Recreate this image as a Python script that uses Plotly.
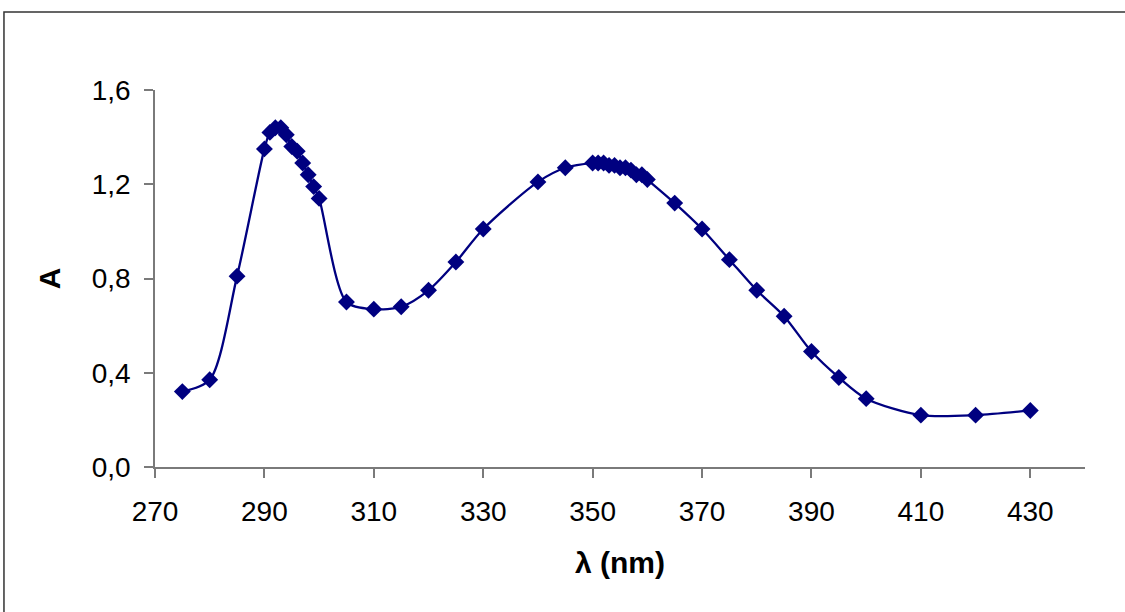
import plotly.graph_objects as go

wavelength = [275, 280, 285, 290, 291, 292, 293, 294, 295, 296, 297, 298, 299, 300,
              305, 310, 315, 320, 325, 330, 340, 345,
              350, 351, 352, 353, 354, 355, 356, 357, 358, 359, 360,
              365, 370, 375, 380, 385, 390, 395, 400, 410, 420, 430]
absorbance = [0.32, 0.37, 0.81, 1.35, 1.42, 1.44, 1.44, 1.41, 1.36, 1.34, 1.29, 1.24, 1.19, 1.14,
              0.70, 0.67, 0.68, 0.75, 0.87, 1.01, 1.21, 1.27,
              1.29, 1.29, 1.29, 1.28, 1.28, 1.27, 1.27, 1.26, 1.24, 1.24, 1.22,
              1.12, 1.01, 0.88, 0.75, 0.64, 0.49, 0.38, 0.29, 0.22, 0.22, 0.24]
x_ticks = [270, 290, 310, 330, 350, 370, 390, 410, 430]
y_ticks = [0.0, 0.4, 0.8, 1.2, 1.6]
y_labels = ["0,0", "0,4", "0,8", "1,2", "1,6"]

navy = "#000080"
axis_col = "#7a7a7a"
title_font = dict(family="Liberation Sans, Arial, sans-serif", size=30, color="black")

fig = go.Figure()
fig.add_trace(go.Scatter(
    x=wavelength, y=absorbance, mode="lines+markers",
    line=dict(color=navy, width=2.3, shape="spline", smoothing=0.8),
    marker=dict(symbol="diamond", size=13, color=navy),
    showlegend=False, cliponaxis=False))

fig.update_layout(
    width=1125, height=612,
    margin=dict(l=155, r=40, t=90, b=145),
    paper_bgcolor="white", plot_bgcolor="white",
    font=dict(family="Liberation Sans, Arial, sans-serif", size=28, color="black"),
    xaxis=dict(range=[270, 440], tickvals=x_ticks, showgrid=False, zeroline=False,
               showline=True, linecolor=axis_col, linewidth=1.5,
               ticks="outside", ticklen=9, tickcolor=axis_col, tickwidth=1.5,
               ticklabelstandoff=10,
               title=dict(text="<b>λ (nm)</b>", font=title_font, standoff=26)),
    yaxis=dict(range=[0, 1.6], tickvals=y_ticks, ticktext=y_labels, showgrid=False,
               zeroline=False, showline=True, linecolor=axis_col, linewidth=1.5,
               ticks="outside", ticklen=9, tickcolor=axis_col, tickwidth=1.5,
               ticklabelstandoff=8,
               title=dict(text="<b>A</b>", font=title_font, standoff=22)),
    shapes=[dict(type="rect", xref="paper", yref="paper",
                 x0=-0.1624, x1=1.2, y0=-0.5, y1=1.207,
                 line=dict(color="#333333", width=1.5), layer="below")],
)

# page has a default 8px body margin, drop it so the chart sits at the corner
fig.write_html("out.html", config={"displayModeBar": False},
               post_script="document.body.style.margin='0px';")
